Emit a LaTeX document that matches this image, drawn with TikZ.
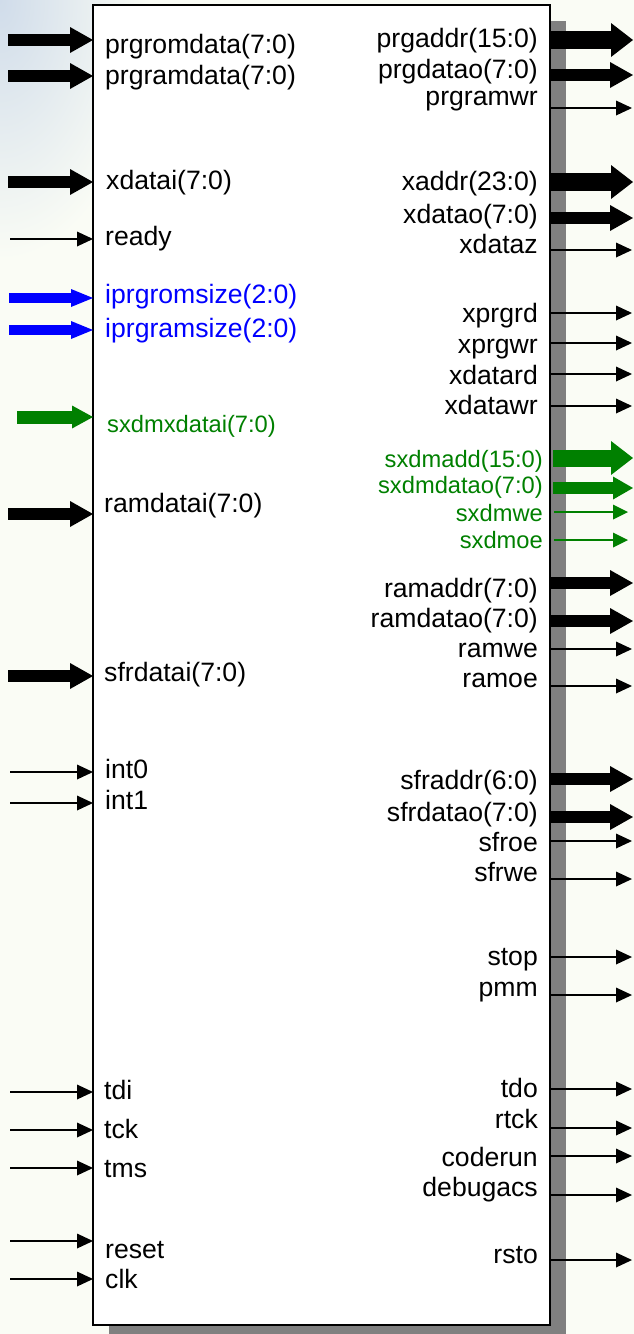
\documentclass[tikz,border=0pt]{standalone}
\usepackage{fontspec}
\setmainfont{Liberation Sans}
\usetikzlibrary{arrows.meta}
\definecolor{bg}{RGB}{250,252,245}
\definecolor{haze}{RGB}{208,220,234}
\definecolor{sgreen}{RGB}{0,128,0}
\definecolor{sblue}{RGB}{0,0,255}
\definecolor{shadowgray}{RGB}{128,128,128}
\tikzset{
  lbl/.style={inner sep=0pt, text=black, font=\fontsize{26.6}{30}\selectfont},
  blbl/.style={lbl, text=sblue},
  glbl/.style={inner sep=0pt, text=sgreen, font=\fontsize{23.7}{28}\selectfont},
  thinbus/.style={line width=2pt, -{Triangle[length=16pt,width=15pt,line width=0pt]}},
  thickbus/.style={line width=12.5pt, -{Triangle[length=23pt,width=26pt,line width=0pt]}},
  bigbus/.style={line width=18pt, -{Triangle[length=22pt,width=34pt,line width=0pt]}},
  bluebus/.style={sblue, line width=10pt, -{Triangle[length=22pt,width=18pt,line width=0pt]}},
  gleftbus/.style={sgreen, line width=13pt, -{Triangle[length=21pt,width=23pt,line width=0pt]}},
  gbigbus/.style={sgreen, line width=17pt, shorten <=3pt, -{Triangle[length=22pt,width=34pt,line width=0pt]}},
  gthickbus/.style={sgreen, line width=12pt, shorten <=3pt, -{Triangle[length=20pt,width=23pt,line width=0pt]}},
  gthinbus/.style={sgreen, line width=2pt, shorten <=4pt, -{Triangle[length=15pt,width=15pt,line width=0pt]}},
  corebox/.style={draw=black, line width=2pt, fill=white, inner sep=0pt, outer sep=0pt,
    minimum width=457pt, minimum height=1320pt},
}
% #1 name, #2 arrow y, #3 start x, #4 arrow style, #5 label style, #6 text, #7 baseline y
\newcommand\leftport[7]{%
  \coordinate (#1src) at (#3,#2);
  \draw[#4] (#1src) -- (#1src -| core.west);
  \node[#5, anchor=base west] (#1lbl) at (104,#7) {#6};
}
% #1 name, #2 arrow y, #3 end x, #4 arrow style, #5 label style, #6 text, #7 baseline y
\newcommand\rightport[7]{%
  \coordinate (#1dst) at (#3,#2);
  \draw[#4] (#1dst -| core.east) -- (#1dst);
  \node[#5, anchor=base east] (#1lbl) at (538,#7) {#6};
}
\begin{document}
\begin{tikzpicture}[x=1pt,y=-1pt]
\useasboundingbox (0,0) rectangle (634,1334);
\fill[bg] (0,0) rectangle (634,1334);
\begin{scope}
  \clip (0,0) rectangle (634,1334);
  \shade[inner color=haze, outer color=bg] (0,0) ellipse [x radius=150, y radius=260];
\end{scope}
\fill[shadowgray] (109,21) rectangle (566,1334);
\node[corebox] (core) at (321.5,665) {};

\leftport{prgromdata}{40}{8}{thickbus}{lbl,xshift=1pt}{prgromdata(7:0)}{53}
\leftport{prgramdata}{76}{8}{thickbus}{lbl,xshift=1pt}{prgramdata(7:0)}{84}
\leftport{xdatai}{182}{8}{thickbus}{lbl,xshift=2pt}{xdatai(7:0)}{189}
\leftport{ready}{239}{10}{thinbus}{lbl,xshift=1pt}{ready}{245}
\leftport{iprgromsize}{298}{9}{bluebus}{blbl,xshift=1pt}{iprgromsize(2:0)}{303}
\leftport{iprgramsize}{330}{9}{bluebus}{blbl,xshift=1pt}{iprgramsize(2:0)}{337}
\leftport{sxdmxdatai}{417}{17}{gleftbus}{glbl,xshift=3pt}{sxdmxdatai(7:0)}{432}
\leftport{ramdatai}{514}{8}{thickbus}{lbl}{ramdatai(7:0)}{512}
\leftport{sfrdatai}{676}{8}{thickbus}{lbl}{sfrdatai(7:0)}{681}
\leftport{intzero}{772}{10}{thinbus}{lbl,xshift=1pt}{int0}{778}
\leftport{intone}{803}{10}{thinbus}{lbl,xshift=1pt}{int1}{809}
\leftport{tdi}{1092}{10}{thinbus}{lbl}{tdi}{1099}
\leftport{tck}{1130}{10}{thinbus}{lbl}{tck}{1138}
\leftport{tms}{1168}{10}{thinbus}{lbl}{tms}{1177}
\leftport{reset}{1241}{10}{thinbus}{lbl,xshift=1pt}{reset}{1258}
\leftport{clk}{1279}{10}{thinbus}{lbl,xshift=1pt}{clk}{1288}

\rightport{prgaddr}{40}{633}{bigbus}{lbl}{prgaddr(15:0)}{47}
\rightport{prgdatao}{75}{633}{thickbus}{lbl}{prgdatao(7:0)}{78}
\rightport{prgramwr}{108}{632}{thinbus}{lbl}{prgramwr}{105}
\rightport{xaddr}{182}{633}{bigbus}{lbl}{xaddr(23:0)}{190}
\rightport{xdatao}{218}{633}{thickbus}{lbl}{xdatao(7:0)}{223}
\rightport{xdataz}{250}{632}{thinbus}{lbl}{xdataz}{253}
\rightport{xprgrd}{313}{632}{thinbus}{lbl}{xprgrd}{322}
\rightport{xprgwr}{343}{632}{thinbus}{lbl}{xprgwr}{353}
\rightport{xdatard}{374}{632}{thinbus}{lbl}{xdatard}{384}
\rightport{xdatawr}{406}{632}{thinbus}{lbl}{xdatawr}{414}
\rightport{sxdmadd}{458}{633}{gbigbus}{glbl,xshift=5pt}{sxdmadd(15:0)}{467}
\rightport{sxdmdatao}{488}{633}{gthickbus}{glbl,xshift=5pt}{sxdmdatao(7:0)}{493}
\rightport{sxdmwe}{512}{628}{gthinbus}{glbl,xshift=5pt}{sxdmwe}{521}
\rightport{sxdmoe}{540}{628}{gthinbus}{glbl,xshift=5pt}{sxdmoe}{548}
\rightport{ramaddr}{583}{633}{thickbus}{lbl}{ramaddr(7:0)}{597}
\rightport{ramdatao}{621}{633}{thickbus}{lbl}{ramdatao(7:0)}{627}
\rightport{ramwe}{649}{632}{thinbus}{lbl}{ramwe}{657}
\rightport{ramoe}{686}{632}{thinbus}{lbl}{ramoe}{687}
\rightport{sfraddr}{779}{633}{thickbus}{lbl}{sfraddr(6:0)}{789}
\rightport{sfrdatao}{817}{633}{thickbus}{lbl}{sfrdatao(7:0)}{821}
\rightport{sfroe}{841}{632}{thinbus}{lbl}{sfroe}{851}
\rightport{sfrwe}{879}{632}{thinbus}{lbl}{sfrwe}{881}
\rightport{stop}{957}{632}{thinbus}{lbl}{stop}{965}
\rightport{pmm}{995}{632}{thinbus}{lbl}{pmm}{996}
\rightport{tdo}{1089}{632}{thinbus}{lbl}{tdo}{1097}
\rightport{rtck}{1128}{632}{thinbus}{lbl}{rtck}{1128}
\rightport{coderun}{1156}{632}{thinbus}{lbl}{coderun}{1166}
\rightport{debugacs}{1195}{632}{thinbus}{lbl}{debugacs}{1196}
\rightport{rsto}{1260}{632}{thinbus}{lbl}{rsto}{1263}
\end{tikzpicture}
\end{document}
